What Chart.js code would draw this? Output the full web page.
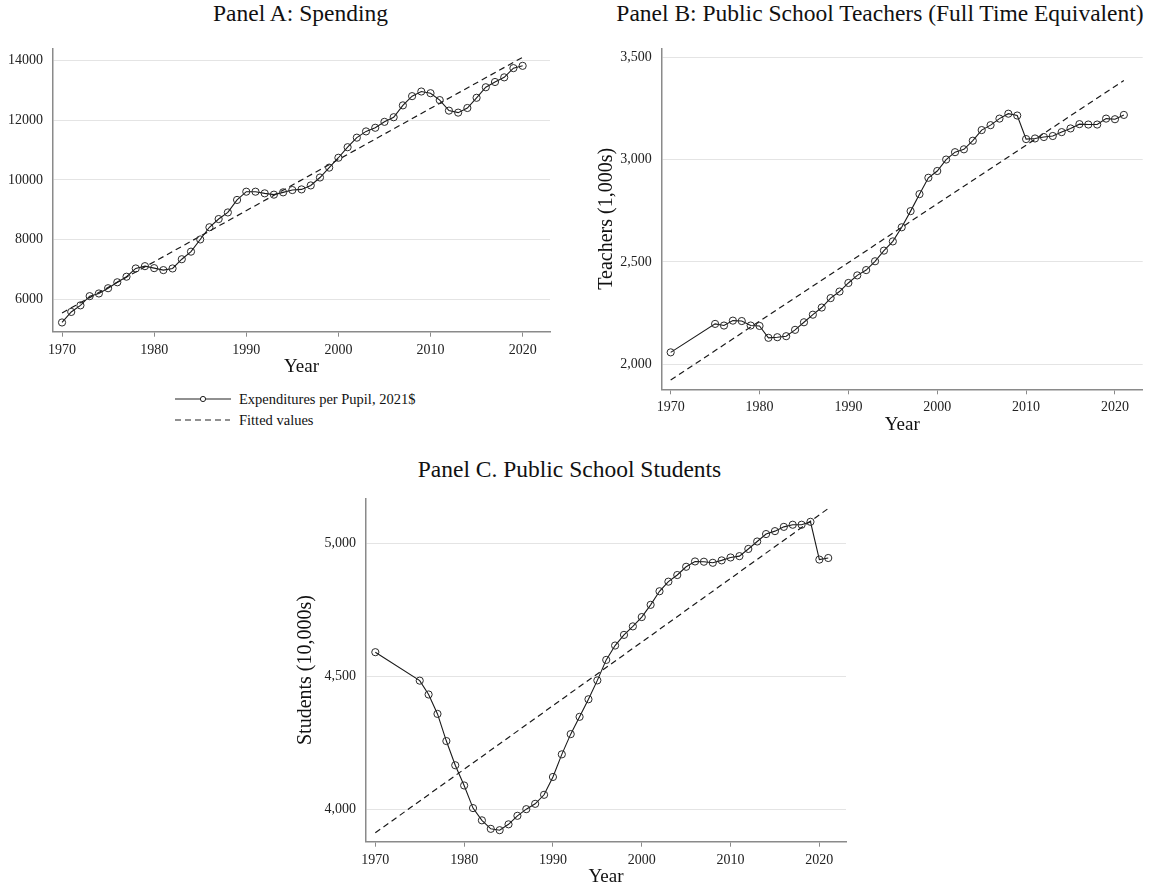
<!DOCTYPE html>
<html><head><meta charset="utf-8">
<script src="https://cdn.jsdelivr.net/npm/chart.js@4.4.1/dist/chart.umd.min.js"></script>
<style>
html,body{margin:0;padding:0;background:#fff;}
body{width:1154px;height:890px;position:relative;overflow:hidden;font-family:"Liberation Serif","Times New Roman",serif;color:#111;}
.ttl{position:absolute;font-size:23.5px;line-height:24px;white-space:nowrap;transform:translateX(-50%);}
canvas{position:absolute;}
.leg{position:absolute;font-size:14.5px;line-height:16px;white-space:nowrap;}
.leg svg{position:absolute;left:0;top:0;}
</style></head>
<body>
<div class="ttl" style="left:300.5px;top:1px;">Panel A: Spending</div>
<div class="ttl" style="left:880px;top:1px;">Panel B: Public School Teachers (Full Time Equivalent)</div>
<div class="ttl" style="left:569.5px;top:457px;">Panel C. Public School Students</div>
<canvas id="cA" width="560" height="348" style="left:0px;top:30px;width:560px;height:348px;"></canvas>
<canvas id="cB" width="574" height="406" style="left:580px;top:30px;width:574px;height:406px;"></canvas>
<canvas id="cC" width="580" height="408" style="left:280px;top:480px;width:580px;height:408px;"></canvas>
<div class="leg" style="left:170px;top:388px;width:260px;height:42px;">
  <svg width="70" height="42">
    <line x1="5" y1="11" x2="61" y2="11" stroke="#222" stroke-width="1.2"/>
    <circle cx="33" cy="11" r="2.6" fill="#fff" stroke="#222" stroke-width="1"/>
    <line x1="5" y1="32" x2="60" y2="32" stroke="#222" stroke-width="1.2" stroke-dasharray="6,4"/>
  </svg>
  <div style="position:absolute;left:69px;top:3px;">Expenditures per Pupil, 2021$</div>
  <div style="position:absolute;left:69px;top:24px;">Fitted values</div>
</div>
<script>
// ---------- DATA ----------
const xTickValues = [1970, 1980, 1990, 2000, 2010, 2020];

const yearsA = [1970,1971,1972,1973,1974,1975,1976,1977,1978,1979,1980,1981,1982,1983,1984,1985,1986,1987,1988,1989,1990,1991,1992,1993,1994,1995,1996,1997,1998,1999,2000,2001,2002,2003,2004,2005,2006,2007,2008,2009,2010,2011,2012,2013,2014,2015,2016,2017,2018,2019,2020];
const spending = [5228,5581,5801,6110,6199,6375,6574,6761,7037,7114,7048,6982,7037,7346,7600,8008,8417,8692,8913,9332,9608,9608,9553,9509,9586,9663,9685,9818,10083,10414,10745,11098,11418,11627,11749,11947,12102,12499,12808,12963,12907,12676,12323,12256,12411,12753,13106,13282,13437,13746,13823];
const fitYearsA = [1970, 2020];
const fitSpending = [5548, 14110];
const yTicksA = [6000, 8000, 10000, 12000, 14000];

const yearsB = [1970,1975,1976,1977,1978,1979,1980,1981,1982,1983,1984,1985,1986,1987,1988,1989,1990,1991,1992,1993,1994,1995,1996,1997,1998,1999,2000,2001,2002,2003,2004,2005,2006,2007,2008,2009,2010,2011,2012,2013,2014,2015,2016,2017,2018,2019,2020,2021];
const teachers = [2058,2197,2189,2213,2211,2189,2187,2129,2132,2137,2168,2205,2242,2277,2323,2355,2397,2434,2460,2503,2555,2600,2669,2748,2831,2911,2944,3000,3036,3050,3092,3144,3168,3200,3224,3215,3100,3103,3110,3115,3134,3152,3173,3171,3171,3200,3197,3218];
const fitYearsB = [1970, 2021];
const fitTeachers = [1923, 3386];
const yTicksB = [2000, 2500, 3000, 3500];

const yearsC = [1970,1975,1976,1977,1978,1979,1980,1981,1982,1983,1984,1985,1986,1987,1988,1989,1990,1991,1992,1993,1994,1995,1996,1997,1998,1999,2000,2001,2002,2003,2004,2005,2006,2007,2008,2009,2010,2011,2012,2013,2014,2015,2016,2017,2018,2019,2020,2021];
const students = [4590,4483,4431,4358,4256,4165,4089,4004,3958,3926,3921,3943,3975,4000,4020,4054,4121,4206,4282,4347,4413,4484,4561,4615,4655,4687,4722,4768,4819,4855,4880,4911,4931,4930,4926,4935,4946,4951,4978,5006,5034,5045,5061,5069,5069,5080,4938,4944];
const fitYearsC = [1970, 2021];
const fitStudents = [3911, 5130];
const yTicksC = [4000, 4500, 5000];

// ---------- CHARTS ----------
const FONT = "'Liberation Serif','Times New Roman',serif";
Chart.defaults.font.family = FONT;
Chart.defaults.color = '#222';

function pts(xs, ys) { return xs.map((x, i) => ({x: x, y: ys[i]})); }
const plain = v => String(v);
const comma = v => Number(v).toLocaleString('en-US');

function panel(id, g) {
  new Chart(document.getElementById(id), {
    type: 'line',
    data: { datasets: [
      { data: pts(g.xs, g.ys), borderColor: '#1a1a1a', borderWidth: 1.1,
        pointRadius: 3.6, pointBorderWidth: 1, pointBorderColor: '#2a2a2a',
        pointBackgroundColor: 'rgba(0,0,0,0)', tension: 0, fill: false },
      { data: pts(g.fx, g.fy), borderColor: '#1a1a1a', borderWidth: 1.2,
        borderDash: [6, 4], pointRadius: 0, tension: 0, fill: false }
    ]},
    options: {
      responsive: false, animation: false, devicePixelRatio: 1,
      layout: { padding: { top: g.padTop, right: g.padRight, left: 0, bottom: 0 } },
      plugins: { legend: { display: false }, tooltip: { enabled: false } },
      scales: {
        x: {
          type: 'linear', min: g.xMin, max: g.xMax,
          afterBuildTicks: s => { s.ticks = xTickValues.map(v => ({value: v})); },
          afterFit: s => { s.height = g.xH; },
          ticks: { font: { size: 14 }, color: '#222', padding: 5, maxRotation: 0, autoSkip: false, callback: plain },
          grid: { drawOnChartArea: false, drawTicks: true, tickLength: 5, tickColor: '#8a8a8a', tickWidth: 1 },
          border: { color: '#8a8a8a', width: 1.5 },
          title: { display: true, text: 'Year', font: { size: 19 }, color: '#111', padding: { top: 0, bottom: 0 } }
        },
        y: {
          min: g.yMin, max: g.yMax,
          afterBuildTicks: s => { s.ticks = g.yTicks.map(v => ({value: v})); },
          afterFit: s => { s.width = g.yW; },
          ticks: { font: { size: 14 }, color: '#222', padding: 10, callback: g.fmt },
          grid: { color: '#e4e4e4', lineWidth: 1, drawTicks: false },
          border: { color: '#8a8a8a', width: 1.5 },
          title: { display: !!g.yTitle, text: g.yTitle || '', font: { size: 20 }, color: '#111', padding: { top: g.yTitlePad, bottom: 0 } }
        }
      }
    }
  });
}

panel('cA', { xs: yearsA, ys: spending, fx: fitYearsA, fy: fitSpending, yTicks: yTicksA,
  xMin: 1969.02, xMax: 2022.97, yMin: 4919, yMax: 14407,
  padTop: 15, padRight: 10, yW: 53, xH: 46.3, fmt: plain, yTitle: null, yTitlePad: 0 });

panel('cB', { xs: yearsB, ys: teachers, fx: fitYearsB, fy: fitTeachers, yTicks: yTicksB,
  xMin: 1968.99, xMax: 2023.12, yMin: 1877.5, yMax: 3543,
  padTop: 15, padRight: 11.3, yW: 81.7, xH: 46.7, fmt: comma, yTitle: 'Teachers (1,000s)', yTitlePad: 15 });

panel('cC', { xs: yearsC, ys: students, fx: fitYearsC, fy: fitStudents, yTicks: yTicksC,
  xMin: 1968.95, xMax: 2023.0, yMin: 3877.7, yMax: 5168,
  padTop: 16.7, padRight: 14, yW: 86, xH: 46.3, fmt: comma, yTitle: 'Students (10,000s)', yTitlePad: 14 });
</script>
</body></html>
